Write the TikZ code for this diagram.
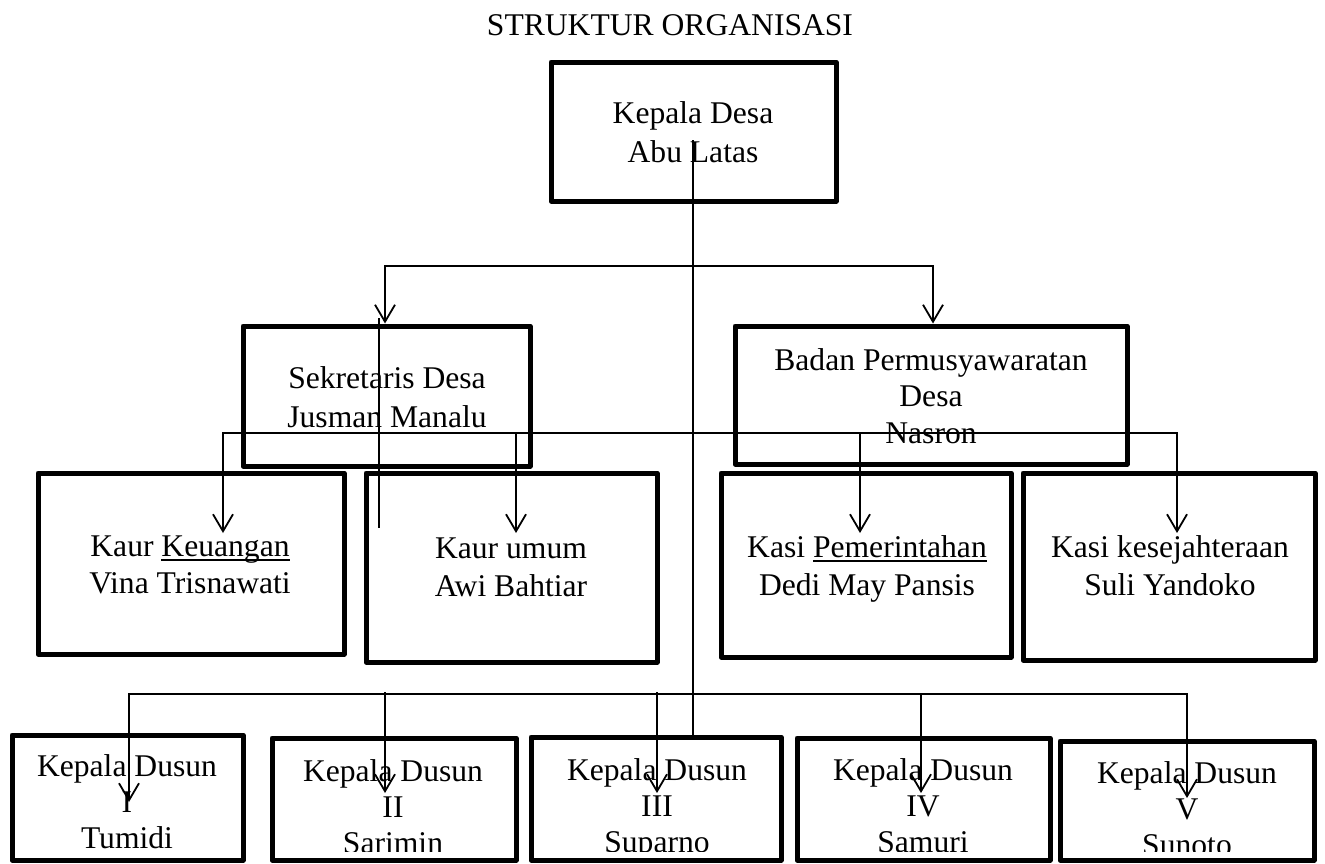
\documentclass[tikz,border=0pt]{standalone}
\usepackage{fontspec}
\setmainfont{Liberation Serif}
\usetikzlibrary{arrows.meta}
\newcommand{\ulx}[1]{\setbox0=\hbox{#1}\rlap{\rule[-2.6pt]{\wd0}{0.9pt}}\box0}
\begin{document}
\begin{tikzpicture}[x=0.5pt,y=-0.5pt,
  box/.style={draw, line width=2.5pt, line join=round, rectangle, inner sep=0pt},
  txt/.style={align=center, anchor=base, inner sep=0pt, font=\fontsize{15.8pt}{18.5pt}\selectfont},
  txttop/.style={txt, font=\fontsize{15.8pt}{19.5pt}\selectfont},
  txtbot/.style={txt, font=\fontsize{15.8pt}{18pt}\selectfont},
  conn/.style={line width=0.9pt},
  tip/.style={conn, -{Straight Barb[length=8.5pt,width=10pt]}},
  tips/.style={conn, {Straight Barb[length=8.5pt,width=10pt]}-{Straight Barb[length=8.5pt,width=10pt]}},
]
\useasboundingbox (0,0) rectangle (1325,863);

% title
\node[txt] (title) at (670,35) {STRUKTUR ORGANISASI};

% boxes
\node[box, minimum width=142.5pt, minimum height=69.5pt] (kd) at (693.5,131.5) {};
\node[box, minimum width=143.5pt, minimum height=70pt] (sek) at (386.5,396) {};
\node[box, minimum width=196pt, minimum height=69pt] (bpd) at (931,395) {};
\node[box, minimum width=153pt, minimum height=90.5pt] (keu) at (191,563.5) {};
\node[box, minimum width=145.5pt, minimum height=94.5pt] (umum) at (511.5,567.5) {};
\node[box, minimum width=145pt, minimum height=92pt] (pem) at (866,565) {};
\node[box, minimum width=146pt, minimum height=93.5pt] (kes) at (1169,566.5) {};
\node[box, minimum width=115.5pt, minimum height=62.5pt] (d1) at (127.5,797.5) {};
\node[box, minimum width=122pt, minimum height=61pt] (d2) at (394,799) {};
\node[box, minimum width=125pt, minimum height=61.5pt] (d3) at (656,798.5) {};
\node[box, minimum width=126.5pt, minimum height=61pt] (d4) at (923.5,799) {};
\node[box, minimum width=127pt, minimum height=59.5pt] (d5) at (1187,800.5) {};

% texts (anchor base = baseline of last line)
\node[txttop] (kdt) at (693,162) {Kepala Desa\\Abu Latas};
\node[txttop] (sekt) at (387,427) {Sekretaris Desa\\Jusman Manalu};
\node[txt, font=\fontsize{15.8pt}{18.25pt}\selectfont] (bpdt) at (931,443) {Badan Permusyawaratan\\Desa\\Nasron};
\node[txt] (keut) at (190,593) {Kaur \ulx{Keuangan}\\Vina Trisnawati};
\node[txt, font=\fontsize{15.8pt}{19pt}\selectfont] (umumt) at (511,596) {Kaur umum\\Awi Bahtiar};
\node[txt, font=\fontsize{15.8pt}{19pt}\selectfont] (pemt) at (867,595) {Kasi \ulx{Pemerintahan}\\Dedi May Pansis};
\node[txt, font=\fontsize{15.8pt}{19pt}\selectfont] (kest) at (1170,595) {Kasi kesejahteraan\\Suli Yandoko};
\begin{scope}
\clip (0,0) rectangle (1325,851);
\node[txtbot] (d1t) at (127,848) {Kepala Dusun\\I\\Tumidi};
\node[txtbot] (d2t) at (393,853) {Kepala Dusun\\II\\Sarimin};
\node[txtbot] (d3t) at (657,852) {Kepala Dusun\\III\\Suparno};
\node[txtbot] (d4t) at (923,852) {Kepala Dusun\\IV\\Samuri};
\node[txtbot] (d5t) at (1187,855) {Kepala Dusun\\V\\Sunoto};
\end{scope}

% connector coordinates
\coordinate (kdin) at (693,140);
\coordinate (hl) at (385,266);
\coordinate (hr) at (933,266);
\coordinate (sv1) at (379,318);
\coordinate (sv2) at (379,528);
\coordinate (m1) at (223,433);
\coordinate (m2) at (516,433);
\coordinate (m3) at (860,433);
\coordinate (m4) at (1177,433);
\coordinate (m1t) at (223,533);
\coordinate (m2t) at (516,533);
\coordinate (m3t) at (860,533);
\coordinate (m4t) at (1177,533);
\coordinate (b1) at (129,694);
\coordinate (b2) at (385,692);
\coordinate (b3) at (657,692);
\coordinate (b4) at (921,694);
\coordinate (b5) at (1187,694);
\coordinate (b1t) at (129,802);
\coordinate (b2t) at (385,793);
\coordinate (b3t) at (657,793);
\coordinate (b4t) at (921,793);
\coordinate (b5t) at (1187,798);

% connectors
\draw[conn] (kdin) -- (kdin |- d3.north);
\draw[tips] (hl |- sek.north) -- (hl) -- (hr) -- (hr |- bpd.north);
\draw[conn] (sv1) -- (sv2);
\draw[tips] (m1t) -- (m1) -- (m4) -- (m4t);
\draw[tip] (m2) -- (m2t);
\draw[tip] (m3) -- (m3t);
\draw[tips] (b1t) -- (b1) -- (b5) -- (b5t);
\draw[tip] (b2) -- (b2t);
\draw[tip] (b3) -- (b3t);
\draw[tip] (b4) -- (b4t);
\end{tikzpicture}
\end{document}
